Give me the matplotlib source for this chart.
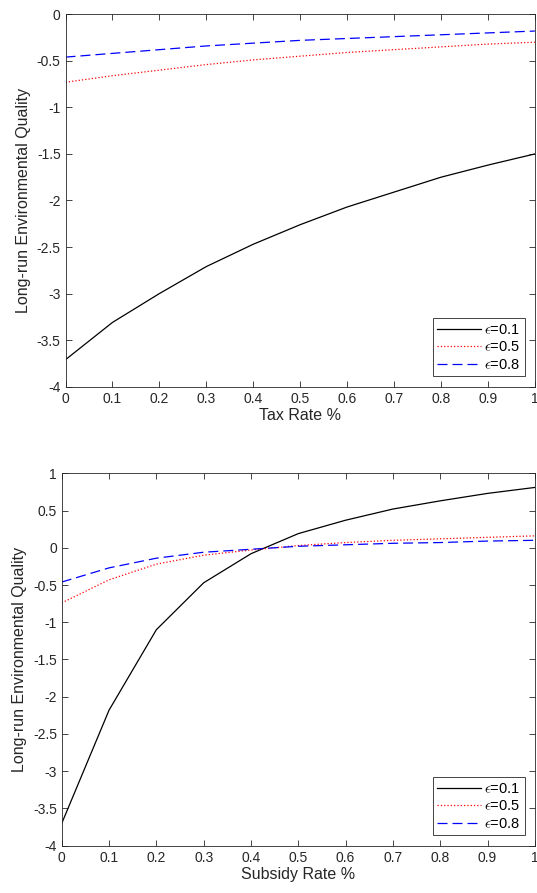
import matplotlib
matplotlib.use("Agg")
import matplotlib.pyplot as plt
import numpy as np

plt.rcParams["font.family"] = ["Liberation Sans", "DejaVu Sans"]
plt.rcParams["mathtext.fontset"] = "cm"

AX_COLOR = "#262626"

rate = [0, 0.1, 0.2, 0.3, 0.4, 0.5, 0.6, 0.7, 0.8, 0.9, 1.0]

# tax scenario
tax_e01 = [-3.71, -3.31, -3.00, -2.71, -2.47, -2.26, -2.07, -1.91, -1.75, -1.62, -1.50]
tax_e05 = [-0.73, -0.66, -0.60, -0.54, -0.49, -0.45, -0.41, -0.38, -0.35, -0.32, -0.30]
tax_e08 = [-0.46, -0.42, -0.38, -0.34, -0.31, -0.28, -0.26, -0.24, -0.22, -0.20, -0.18]

# subsidy scenario
sub_e01 = [-3.70, -2.18, -1.10, -0.47, -0.08, 0.19, 0.37, 0.52, 0.63, 0.73, 0.81]
sub_e05 = [-0.74, -0.43, -0.22, -0.10, -0.03, 0.03, 0.07, 0.10, 0.12, 0.14, 0.16]
sub_e08 = [-0.46, -0.27, -0.14, -0.06, -0.02, 0.02, 0.04, 0.06, 0.07, 0.09, 0.10]

labels = [r"$\epsilon$=0.1", r"$\epsilon$=0.5", r"$\epsilon$=0.8"]
styles = [("black", "-"), ("red", ":"), ("blue", (0, (8, 4)))]


def draw(ax, series, ylim, yticks, ytick_labels, xlabel):
    for y, (c, ls), lab in zip(series, styles, labels):
        ax.plot(rate, y, color=c, linestyle=ls, lw=0.9, label=lab)
    ax.set_xlim(0, 1)
    ax.set_ylim(*ylim)
    ax.set_xticks(rate)
    ax.set_xticklabels(["0", "0.1", "0.2", "0.3", "0.4", "0.5", "0.6", "0.7", "0.8", "0.9", "1"])
    ax.set_yticks(yticks)
    ax.set_yticklabels(ytick_labels)
    ax.tick_params(direction="in", top=True, right=True, length=4, width=0.6,
                   colors=AX_COLOR, labelsize=10)
    for s in ax.spines.values():
        s.set_color(AX_COLOR)
        s.set_linewidth(0.6)
    ax.set_xlabel(xlabel, fontsize=11.5, color=AX_COLOR, labelpad=2)
    ax.set_ylabel("Long-run Environmental Quality", fontsize=11.5, color=AX_COLOR, labelpad=4)
    leg = ax.legend(loc="lower right", fontsize=10.5, fancybox=False, framealpha=1,
                    edgecolor=AX_COLOR, handlelength=3.0, handletextpad=0.2,
                    borderpad=0.3, labelspacing=0.25, borderaxespad=0.7)
    leg.get_frame().set_linewidth(0.6)


fig = plt.figure(figsize=(5.37, 8.93), dpi=100)
ax1 = fig.add_axes([0.122, 0.567, 0.874, 0.417])
ax2 = fig.add_axes([0.115, 0.053, 0.881, 0.417])

draw(ax1, [tax_e01, tax_e05, tax_e08], (-4, 0),
     [-4, -3.5, -3, -2.5, -2, -1.5, -1, -0.5, 0],
     ["-4", "-3.5", "-3", "-2.5", "-2", "-1.5", "-1", "-0.5", "0"], "Tax Rate %")
draw(ax2, [sub_e01, sub_e05, sub_e08], (-4, 1),
     [-4, -3.5, -3, -2.5, -2, -1.5, -1, -0.5, 0, 0.5, 1],
     ["-4", "-3.5", "-3", "-2.5", "-2", "-1.5", "-1", "-0.5", "0", "0.5", "1"], "Subsidy Rate %")

fig.savefig("out.png", dpi=100, facecolor="white")
